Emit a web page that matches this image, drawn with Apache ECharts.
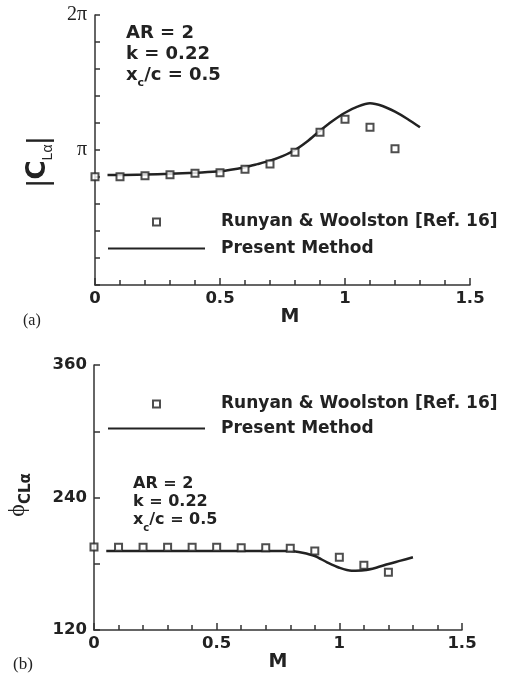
<!DOCTYPE html>
<html>
<head>
<meta charset="utf-8">
<script src="https://cdn.jsdelivr.net/npm/echarts@6/dist/echarts.min.js"></script>
<style>
  html, body { margin: 0; padding: 0; background: #fff; }
  #chart { width: 505px; height: 679px; }
</style>
</head>
<body>
<div id="chart"></div>
<script>
// Mach numbers of the Runyan & Woolston points (both panels)
const machRef = [0, 0.1, 0.2, 0.3, 0.4, 0.5, 0.6, 0.7, 0.8, 0.9, 1.0, 1.1, 1.2];

// (a) |C_La| in radians
const cLaRef = [2.520, 2.520, 2.545, 2.567, 2.598, 2.614, 2.692, 2.815, 3.088, 3.553, 3.855, 3.669, 3.173];
const machLineA = [0.05, 0.1, 0.2, 0.3, 0.4, 0.5, 0.6, 0.65, 0.7, 0.75, 0.8, 0.85, 0.9, 0.95, 1.0, 1.05, 1.1, 1.15, 1.2, 1.25, 1.3];
const cLaLine = [2.560, 2.560, 2.570, 2.589, 2.614, 2.645, 2.739, 2.812, 2.893, 3.000, 3.142, 3.346, 3.591, 3.817, 4.009, 4.150, 4.229, 4.166, 4.034, 3.864, 3.669];

// (b) phase in degrees
const phiRef = [195.2, 194.9, 194.9, 194.9, 194.9, 194.9, 194.5, 194.5, 194.0, 191.6, 185.9, 178.6, 172.3];
const machLineB = [0.05, 0.1, 0.2, 0.3, 0.4, 0.5, 0.6, 0.7, 0.8, 0.85, 0.9, 0.95, 1.0, 1.05, 1.1, 1.15, 1.2, 1.25, 1.3];
const phiLine = [191.6, 191.6, 191.6, 191.6, 191.6, 191.6, 191.6, 191.6, 191.6, 190.0, 187.0, 181.3, 176.4, 173.7, 174.1, 176.4, 179.8, 182.8, 185.9];

const xTicks = [0, 0.5, 1, 1.5];
const legendNames = ["Runyan & Woolston [Ref. 16]", "Present Method"];

const SANS = "'DejaVu Sans', sans-serif";
const SERIF = "'Liberation Serif', 'DejaVu Serif', serif";
const INK = "#222";
const AXIS = "#333";
const SQUARE = "path://M0,0H10V10H0Z";

function zip(xs, ys) {
  return xs.map((x, i) => [x, ys[i]]);
}

function xAxisFor(gridIndex) {
  return {
    type: "value",
    gridIndex,
    min: xTicks[0],
    max: xTicks[xTicks.length - 1],
    interval: 0.5,
    axisLine: { lineStyle: { color: AXIS, width: 1.5 } },
    axisTick: { inside: true, length: 7, lineStyle: { color: AXIS, width: 1.5 } },
    minorTick: { show: true, splitNumber: 5, length: 5, lineStyle: { color: AXIS, width: 1.5 } },
    splitLine: { show: false },
    axisLabel: {
      margin: 5,
      color: INK,
      fontFamily: SANS,
      fontWeight: "bold",
      fontSize: 16.5,
      formatter: (v) => String(v),
    },
  };
}

function refSeries(gridIndex, data) {
  return {
    name: legendNames[0],
    type: "scatter",
    xAxisIndex: gridIndex,
    yAxisIndex: gridIndex,
    symbol: SQUARE,
    symbolSize: 7,
    symbolKeepAspect: true,
    itemStyle: { color: "#fff", borderColor: INK, borderWidth: 2 },
    z: 4,
    data,
  };
}

function lineSeries(gridIndex, data) {
  return {
    name: legendNames[1],
    type: "line",
    xAxisIndex: gridIndex,
    yAxisIndex: gridIndex,
    symbol: "none",
    smooth: 0.3,
    color: INK,
    lineStyle: { color: INK, width: 2.5 },
    z: 3,
    data,
  };
}

function legendAt(top, gap) {
  return {
    orient: "vertical",
    left: 107,
    top,
    padding: 0,
    itemWidth: 97,
    itemHeight: 7,
    itemGap: gap,
    symbolKeepAspect: true,
    selectedMode: false,
    textStyle: {
      color: INK,
      fontFamily: SANS,
      fontWeight: "bold",
      fontSize: 17,
      lineHeight: 20,
      padding: [0, 0, 0, 11],
    },
    data: [
      { name: legendNames[0], itemStyle: { color: "#fff", borderColor: INK, borderWidth: 2 } },
      { name: legendNames[1], itemStyle: { opacity: 0 } },
    ],
  };
}

const boldText = { fontFamily: SANS, fontWeight: "bold", fill: INK };

function paramLines(left, tops, size) {
  const subSize = Math.round(size * 0.62);
  return [
    { type: "text", left, top: tops[0], style: { ...boldText, text: "AR = 2", fontSize: size } },
    { type: "text", left, top: tops[1], style: { ...boldText, text: "k = 0.22", fontSize: size } },
    {
      type: "text",
      left,
      top: tops[2],
      style: {
        text: "{b|x}{s|c}{b|/c = 0.5}",
        rich: {
          b: { ...boldText, fontSize: size, lineHeight: size, padding: [0, 0, 5, 0], verticalAlign: "bottom" },
          s: { ...boldText, fontSize: subSize, lineHeight: subSize, verticalAlign: "bottom" },
        },
      },
    },
  ];
}

const chart = echarts.init(document.getElementById("chart"));

chart.setOption({
  animation: false,
  grid: [
    { left: 95, right: 35, top: 15, height: 270 },
    { left: 94, right: 43, top: 365, height: 265 },
  ],
  xAxis: [xAxisFor(0), xAxisFor(1)],
  yAxis: [
    {
      type: "value",
      gridIndex: 0,
      min: 0,
      max: 2 * Math.PI,
      interval: Math.PI,
      axisLine: { lineStyle: { color: AXIS, width: 1.5 } },
      axisTick: { inside: true, length: 5, lineStyle: { color: AXIS, width: 1.5 } },
      minorTick: { show: true, splitNumber: 5, length: 5, lineStyle: { color: AXIS, width: 1.5 } },
      splitLine: { show: false },
      axisLabel: {
        margin: 8,
        color: INK,
        fontFamily: SERIF,
        fontSize: 20,
        formatter: (v) => {
          if (Math.abs(v - Math.PI) < 1e-6) return "π";
          if (Math.abs(v - 2 * Math.PI) < 1e-6) return "2π";
          return "";
        },
      },
    },
    {
      type: "value",
      gridIndex: 1,
      min: 120,
      max: 360,
      interval: 120,
      axisLine: { lineStyle: { color: AXIS, width: 1.5 } },
      axisTick: { inside: true, length: 6, lineStyle: { color: AXIS, width: 1.5 } },
      minorTick: { show: true, splitNumber: 2, length: 6, lineStyle: { color: AXIS, width: 1.5 } },
      splitLine: { show: false },
      axisLabel: {
        margin: 7,
        color: INK,
        fontFamily: SANS,
        fontWeight: "bold",
        fontSize: 16.5,
      },
    },
  ],
  legend: [legendAt(212, 6.5), legendAt(394, 4.4)],
  series: [
    refSeries(0, zip(machRef, cLaRef)),
    lineSeries(0, zip(machLineA, cLaLine)),
    refSeries(1, zip(machRef, phiRef)),
    lineSeries(1, zip(machLineB, phiLine)),
  ],
  graphic: [
    // panel (a)
    ...paramLines(126, [24, 45, 66], 18),
    {
      type: "text",
      x: 42,
      y: 162,
      rotation: Math.PI / 2,
      style: {
        text: "{bar||}{c|C}{sub|Lα}{bar||}",
        align: "center",
        verticalAlign: "middle",
        rich: {
          bar: { fontFamily: "'Liberation Sans', sans-serif", fontSize: 30, lineHeight: 34, fill: INK, verticalAlign: "bottom", padding: [0, 0, 4, 0] },
          c: { ...boldText, fontSize: 26, lineHeight: 26, verticalAlign: "bottom", padding: [0, 0, 8, 0] },
          sub: { fontFamily: "'Liberation Sans', sans-serif", fontSize: 14, lineHeight: 14, fill: INK, verticalAlign: "bottom", padding: [0, 0, 4, 0] },
        },
      },
    },
    { type: "text", x: 290, y: 317, style: { ...boldText, text: "M", fontSize: 19, align: "center", verticalAlign: "middle" } },
    { type: "text", left: 23, top: 313, style: { text: "(a)", fontFamily: SERIF, fontSize: 16, fill: INK } },
    // panel (b)
    ...paramLines(133, [476, 494, 512], 16),
    {
      type: "text",
      x: 22,
      y: 495,
      rotation: Math.PI / 2,
      style: {
        text: "{phi|ϕ}{sub|CLα}",
        align: "center",
        verticalAlign: "middle",
        rich: {
          phi: { fontFamily: SERIF, fontSize: 24, lineHeight: 24, fill: INK, verticalAlign: "bottom", padding: [0, 0, 4, 0] },
          sub: { ...boldText, fontSize: 15, lineHeight: 15, verticalAlign: "bottom" },
        },
      },
    },
    { type: "text", x: 278, y: 662, style: { ...boldText, text: "M", fontSize: 19, align: "center", verticalAlign: "middle" } },
    { type: "text", left: 13, top: 656, style: { text: "(b)", fontFamily: SERIF, fontSize: 17, fill: INK } },
  ],
});
</script>
</body>
</html>
